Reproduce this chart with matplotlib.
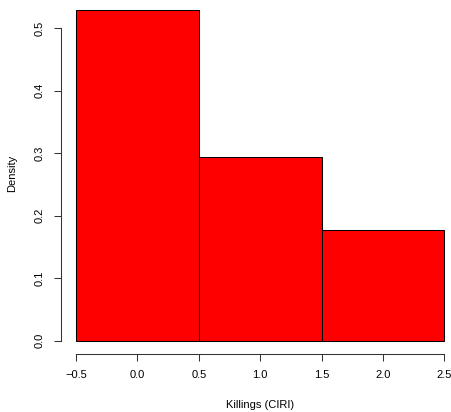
import matplotlib
matplotlib.use("Agg")
import matplotlib.pyplot as plt

# Killings (CIRI) scores and how often each occurs
scores = [0, 1, 2]
counts = [9, 5, 3]
breaks = [-0.5, 0.5, 1.5, 2.5]
xticks = [-0.5, 0.0, 0.5, 1.0, 1.5, 2.0, 2.5]
yticks = [0.0, 0.1, 0.2, 0.3, 0.4, 0.5]

plt.rcParams['font.family'] = ['Liberation Sans', 'DejaVu Sans']
plt.rcParams['font.size'] = 8

W, H = 452, 412
fig = plt.figure(figsize=(W / 100, H / 100), dpi=100)

# plot region in pixels: left 61, right 459.4, top -3.3, bottom 354
ax = fig.add_axes([61 / W, (H - 354) / H, 398.4 / W, 357.3 / H])
ax.hist(scores, bins=breaks, weights=counts, density=True,
        color='#ff0000', edgecolor='black', linewidth=0.75)

ax.set_xlim(-0.622, 2.622)
ax.set_ylim(-0.0212, 0.5506)

for side in ('top', 'right'):
    ax.spines[side].set_visible(False)
ax.spines['left'].set_bounds(0, 0.5)
ax.spines['bottom'].set_bounds(-0.5, 2.5)
for side in ('left', 'bottom'):
    ax.spines[side].set_linewidth(0.75)
    ax.spines[side].set_color('#333333')

ax.set_xticks(xticks)
ax.set_xticklabels([f'{t:.1f}'.replace('-', '\u2212') for t in xticks])
ax.set_yticks(yticks)
ax.set_yticklabels([f'{t:.1f}' for t in yticks], rotation=90, va='center')
ax.tick_params(length=5, width=0.75, color='#333333', pad=6.5)

fig.text(260 / W, 1 - 405 / H, 'Killings (CIRI)', ha='center', va='center')
fig.text(12 / W, 1 - 173 / H, 'Density', ha='center', va='center',
         rotation=90)

fig.savefig('out.png', dpi=100)
